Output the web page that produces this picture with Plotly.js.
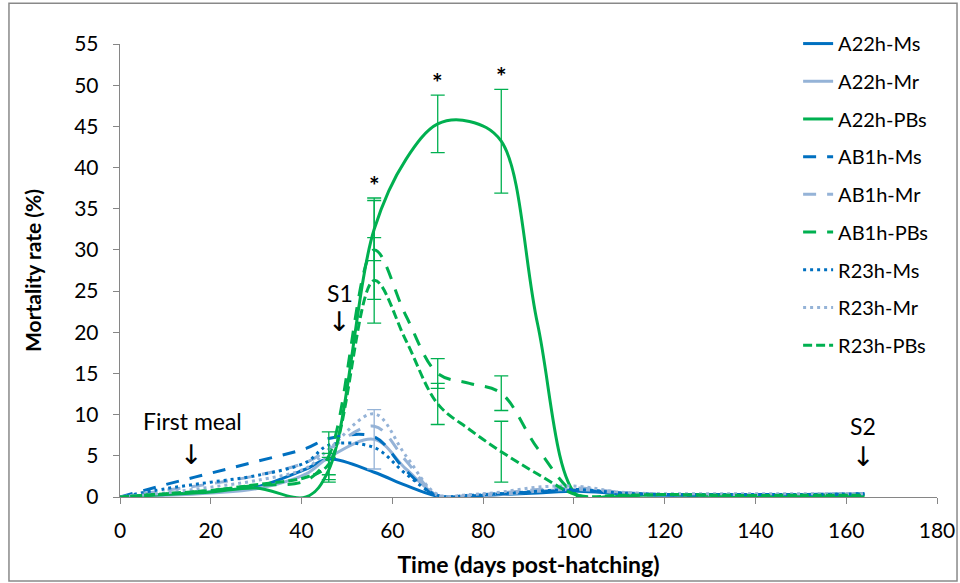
<!DOCTYPE html>
<html>
<head>
<meta charset="utf-8">
<script src="https://cdn.plot.ly/plotly-3.0.1.min.js"></script>
<style>html,body{margin:0;padding:0;background:#fff;}#chart{width:960px;height:583px;}</style>
</head>
<body>
<div id="chart"></div>
<script>
// ---- Data ----
const days    = [0, 10, 20, 30, 41, 46, 56, 63, 70, 77, 84, 92, 101, 110, 120, 135, 150, 164];
const a22hMs  = [0, 0.3, 0.6, 1.2, 3.4, 4.6, 3.0, 1.4, 0.1, 0.1, 0.3, 0.5, 0.7, 0.4, 0.2, 0.2, 0.2, 0.3];
const a22hMr  = [0, 0.2, 0.5, 1.0, 2.8, 4.8, 7.0, 3.4, 0.2, 0.1, 0.3, 0.7, 0.9, 0.5, 0.3, 0.3, 0.3, 0.3];
const a22hPbs = [0, 0.3, 0.6, 1.1, 0.0, 3.3, 32.5, 41.0, 45.3, 45.6, 43.2, 21.0, 0.0, 0.1, 0.3, 0.1, 0.1, 0.1];
const ab1hMs  = [0, 1.5, 2.9, 4.3, 5.9, 7.1, 7.3, 3.2, 0.1, 0.1, 0.4, 0.6, 0.8, 0.5, 0.3, 0.3, 0.3, 0.4];
const ab1hMr  = [0, 0.8, 1.6, 2.6, 4.2, 5.8, 8.6, 4.4, 0.2, 0.2, 0.5, 0.9, 1.1, 0.6, 0.3, 0.3, 0.3, 0.4];
const ab1hPbs = [0, 0.4, 0.8, 1.4, 2.0, 5.0, 30.0, 22.0, 15.0, 13.8, 12.6, 5.9, 0.2, 0.2, 0.3, 0.2, 0.2, 0.2];
const r23hMs  = [0, 1.0, 1.8, 2.6, 4.2, 6.3, 6.0, 2.8, 0.2, 0.2, 0.4, 0.7, 0.9, 0.5, 0.3, 0.3, 0.3, 0.4];
const r23hMr  = [0, 0.5, 1.2, 2.0, 3.5, 5.8, 10.1, 5.0, 0.3, 0.3, 0.6, 1.2, 1.3, 0.6, 0.4, 0.4, 0.4, 0.4];
const r23hPbs = [0, 0.4, 0.8, 1.5, 2.4, 4.0, 26.3, 19.0, 11.3, 8.2, 5.5, 2.8, 0.2, 0.2, 0.3, 0.2, 0.2, 0.2];

// error bars (days at which they are shown, and +/- values)
const errDays    = [46, 56, 70, 84];
const a22hPbsErr = [1.5, 3.8, 3.5, 6.3];
const ab1hPbsErr = [2.9, 6.0, 1.8, 2.1];
const r23hPbsErr = [1.3, 5.2, 2.5, 3.7];
const mrErrDays  = [56];
const a22hMrErr  = [3.6];

// significance marks on A22h-PBs
const starDays = [56, 70, 84];

const seriesNames = ['A22h-Ms','A22h-Mr','A22h-PBs','AB1h-Ms','AB1h-Mr','AB1h-PBs','R23h-Ms','R23h-Mr','R23h-PBs'];
const seriesVals  = [a22hMs, a22hMr, a22hPbs, ab1hMs, ab1hMr, ab1hPbs, r23hMs, r23hMr, r23hPbs];

const xTicks = [0, 20, 40, 60, 80, 100, 120, 140, 160, 180];
const yTicks = [0, 5, 10, 15, 20, 25, 30, 35, 40, 45, 50, 55];

// ---- Styles ----
const DARK = '#0070C0', LIGHT = '#95B3D7', GREEN = '#00B050';
const colors = [DARK, LIGHT, GREEN, DARK, LIGHT, GREEN, DARK, LIGHT, GREEN];
const dashes = ['solid','solid','solid','13px,11px','13px,11px','13px,11px','3px,4px','3px,4px','9px,4px'];
const FONT = 'Lato, "Open Sans", sans-serif';

const traces = seriesNames.map((n, i) => ({
  type: 'scatter', mode: 'lines', name: n, x: days, y: seriesVals[i],
  legendgroup: 'g' + i,
  line: {color: colors[i], width: 3, dash: dashes[i], shape: 'spline', smoothing: 1}
}));

function at(arr, d) { return arr[days.indexOf(d)]; }
function errTrace(vals, eDays, errs, color) {
  return {
    type: 'scatter', mode: 'markers', x: eDays, y: eDays.map(d => at(vals, d)),
    marker: {size: 1, color: 'rgba(0,0,0,0)'}, showlegend: false, hoverinfo: 'skip',
    error_y: {type: 'data', array: errs, visible: true, color: color, thickness: 1.3, width: 7}
  };
}
traces.push(errTrace(a22hPbs, errDays, a22hPbsErr, GREEN));
traces.push(errTrace(ab1hPbs, errDays, ab1hPbsErr, GREEN));
traces.push(errTrace(r23hPbs, errDays, r23hPbsErr, GREEN));
traces.push(errTrace(a22hMr, mrErrDays, a22hMrErr, LIGHT));

const annotations = [];
starDays.forEach(d => {
  const i = errDays.indexOf(d);
  annotations.push({x: d, y: at(a22hPbs, d) + a22hPbsErr[i] + 2.0, text: '*', showarrow: false,
    font: {family: FONT, size: 25, color: '#000', weight: 'bold'}, yanchor: 'middle', yshift: -3});
});
const txtFont = {family: FONT, size: 23, color: '#000'};
const arrowFont = {family: 'DejaVu Sans', size: 27, color: '#000'};
annotations.push({x: 16, y: 9.2, text: 'First meal', showarrow: false, font: txtFont});
annotations.push({x: 15.8, y: 5.2, text: '↓', showarrow: false, font: arrowFont});
annotations.push({x: 48.5, y: 24.8, text: 'S1', showarrow: false, font: txtFont});
annotations.push({x: 48.3, y: 21.3, text: '↓', showarrow: false, font: arrowFont});
annotations.push({x: 163.8, y: 8.6, text: 'S2', showarrow: false, font: txtFont});
annotations.push({x: 163.8, y: 4.9, text: '↓', showarrow: false, font: arrowFont});

const layout = {
  width: 960, height: 583,
  margin: {l: 120, r: 23, t: 44, b: 86},
  paper_bgcolor: '#fff', plot_bgcolor: '#fff',
  font: {family: FONT, size: 18, color: '#000'},
  showlegend: true,
  legend: {x: 0.83, xanchor: 'left', y: 1.044, yanchor: 'top', traceorder: 'grouped',
    tracegroupgap: 8.7, maxheight: 540, bgcolor: 'rgba(0,0,0,0)', font: {family: FONT, size: 20, color: '#000'}},
  xaxis: {range: [0, 180], tickvals: xTicks, ticktext: xTicks.map(String), showgrid: false, zeroline: false,
    showline: true, linecolor: '#868686', linewidth: 1.3, ticks: 'outside', ticklen: 6, tickcolor: '#868686',
    tickfont: {family: FONT, size: 21, color: '#000'}, ticklabelstandoff: 8,
    title: {text: 'Time (days post-hatching)', font: {family: FONT, size: 23, color: '#000', weight: 'bold'}, standoff: 16}},
  yaxis: {range: [0, 55], tickvals: yTicks, ticktext: yTicks.map(String), showgrid: false, zeroline: false,
    showline: true, linecolor: '#868686', linewidth: 1.3, ticks: 'outside', ticklen: 6, tickcolor: '#868686',
    tickfont: {family: FONT, size: 21, color: '#000'}, ticklabelstandoff: 10,
    title: {text: 'Mortality rate (%)', font: {family: FONT, size: 21, color: '#000', weight: 'bold'}, standoff: 26}},
  annotations: annotations,
  shapes: [{type: 'rect', xref: 'paper', yref: 'paper', x0: -0.1359, x1: 1.0245, y0: -0.1854, y1: 1.09,
    line: {color: '#898989', width: 1.5}, fillcolor: 'rgba(0,0,0,0)', layer: 'below'}]
};

Plotly.newPlot('chart', traces, layout, {displayModeBar: false, staticPlot: true});
</script>
</body>
</html>
